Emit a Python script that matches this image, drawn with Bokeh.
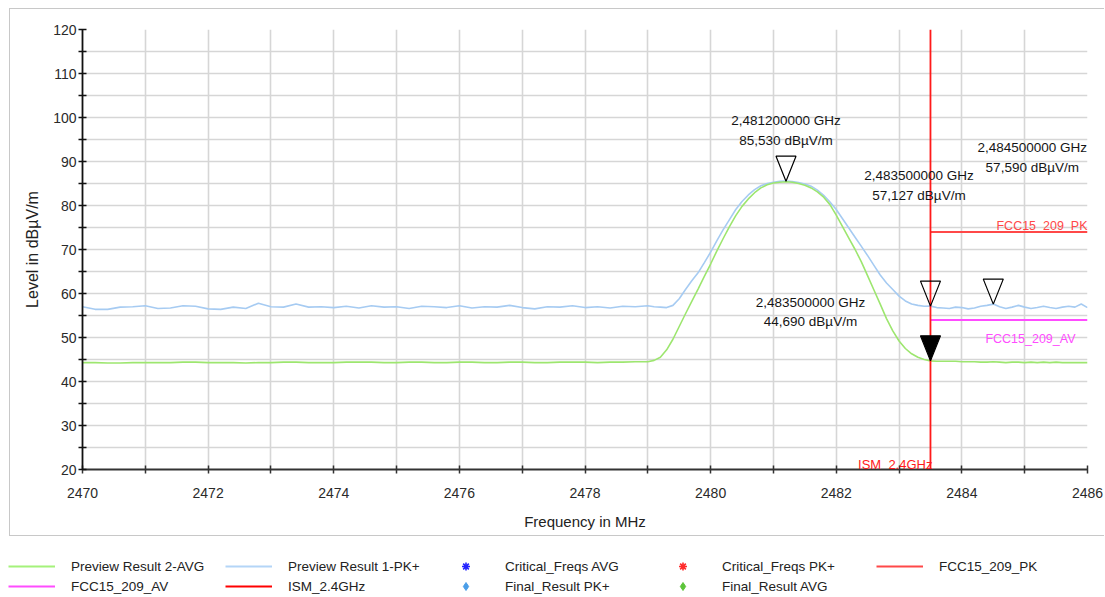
import numpy as np
from bokeh.plotting import figure
from bokeh.models import (Range1d, FixedTicker, Label, Legend, LegendItem)
from bokeh.layouts import column
from bokeh.embed import file_html
from bokeh.resources import INLINE

# ---------------- data ----------------
freq_mhz = [
    2470.0, 2470.2, 2470.4, 2470.6, 2470.8, 2471.0, 2471.2, 2471.4, 2471.6, 2471.8,
    2472.0, 2472.2, 2472.4, 2472.6, 2472.8, 2473.0, 2473.2, 2473.4, 2473.6, 2473.8,
    2474.0, 2474.2, 2474.4, 2474.6, 2474.8, 2475.0, 2475.2, 2475.4, 2475.6, 2475.8,
    2476.0, 2476.2, 2476.4, 2476.6, 2476.8, 2477.0, 2477.2, 2477.4, 2477.6, 2477.8,
    2478.0, 2478.2, 2478.4, 2478.6, 2478.8, 2479.0,
    2479.1, 2479.2, 2479.3, 2479.4, 2479.5, 2479.6, 2479.7, 2479.8, 2479.9, 2480.0,
    2480.1, 2480.2, 2480.3, 2480.4, 2480.5, 2480.6, 2480.7, 2480.8, 2480.9, 2481.0,
    2481.1, 2481.2, 2481.3, 2481.4, 2481.5, 2481.6, 2481.7, 2481.8, 2481.9, 2482.0,
    2482.1, 2482.2, 2482.3, 2482.4, 2482.5, 2482.6, 2482.7, 2482.8, 2482.9, 2483.0,
    2483.1, 2483.2, 2483.3, 2483.4, 2483.5, 2483.6,
    2483.7, 2483.8, 2483.9, 2484.0, 2484.1, 2484.2, 2484.3, 2484.4, 2484.5, 2484.6,
    2484.7, 2484.8, 2484.9, 2485.0, 2485.1, 2485.2, 2485.3, 2485.4, 2485.5, 2485.6,
    2485.7, 2485.8, 2485.9, 2486.0,
]

pk_level = [  # Preview Result 1-PK+
    57.0, 56.4, 56.4, 56.9, 57.0, 57.2, 56.6, 56.7, 57.2, 57.1,
    56.5, 56.4, 56.9, 56.6, 57.8, 57.0, 56.9, 57.6, 56.9, 57.0,
    56.8, 57.1, 56.7, 57.2, 56.9, 57.0, 56.6, 57.1, 57.0, 56.8,
    57.2, 56.7, 57.0, 56.9, 57.3, 56.8, 56.5, 57.0, 56.9, 57.2,
    56.8, 57.0, 56.7, 57.1, 57.0, 57.2,
    57.0, 56.9, 56.8, 57.3, 58.8, 60.9, 62.9, 64.7, 67.0, 69.4,
    72.0, 74.5, 76.8, 79.1, 80.9, 82.4, 83.6, 84.5, 85.0, 85.3,
    85.5, 85.53, 85.45, 85.2, 84.9, 84.4, 83.5, 82.3, 80.8, 79.1,
    77.0, 74.9, 72.8, 70.7, 68.6, 66.4, 64.2, 62.4, 60.9, 59.4,
    58.3, 57.6, 57.3, 57.1, 57.127, 56.8,
    56.7, 56.6, 56.9, 56.8, 56.5, 56.7, 57.1, 57.3, 57.59, 57.0,
    56.6, 56.9, 57.3, 56.9, 56.6, 56.8, 57.1, 56.8, 56.6, 56.9,
    57.1, 56.9, 57.6, 56.8,
]

avg_level = [  # Preview Result 2-AVG
    44.3, 44.3, 44.2, 44.2, 44.3, 44.3, 44.3, 44.3, 44.4, 44.4,
    44.3, 44.3, 44.3, 44.2, 44.3, 44.3, 44.4, 44.4, 44.3, 44.3,
    44.3, 44.4, 44.4, 44.4, 44.3, 44.3, 44.4, 44.4, 44.3, 44.3,
    44.4, 44.4, 44.3, 44.3, 44.4, 44.4, 44.3, 44.3, 44.4, 44.4,
    44.4, 44.3, 44.4, 44.4, 44.5, 44.5,
    44.8, 45.5, 47.2, 49.6, 52.5, 55.4, 58.2, 61.0, 63.9, 66.7,
    69.7, 72.5, 75.2, 77.7, 79.8, 81.5, 82.9, 84.0, 84.7, 85.1,
    85.3, 85.4, 85.3, 85.0, 84.6, 84.0, 83.1, 81.9, 80.2, 77.8,
    75.2, 72.6, 70.0, 67.2, 64.0, 60.8, 57.6, 54.3, 51.5, 49.2,
    47.5, 46.3, 45.5, 45.0, 44.69, 44.6,
    44.6, 44.6, 44.6, 44.5, 44.5, 44.5, 44.4, 44.4, 44.5, 44.4,
    44.3, 44.4, 44.4, 44.3, 44.4, 44.3, 44.4, 44.3, 44.4, 44.3,
    44.3, 44.3, 44.3, 44.3,
]

marker_freq = [2481.2, 2483.5, 2484.5, 2483.5]
marker_level = [85.53, 57.127, 57.59, 44.69]
marker_filled = [False, False, False, True]

fcc_pk_limit = 74.0
fcc_av_limit = 54.0
limit_start = 2483.5
limit_end = 2486.0
ism_edge = 2483.5

x_major = [2470, 2472, 2474, 2476, 2478, 2480, 2482, 2484, 2486]
x_minor = [2471, 2473, 2475, 2477, 2479, 2481, 2483, 2485]
y_major = [20, 30, 40, 50, 60, 70, 80, 90, 100, 110, 120]
y_minor = [25, 35, 45, 55, 65, 75, 85, 95, 105, 115]

legend_labels = ["Preview Result 2-AVG", "Preview Result 1-PK+", "Critical_Freqs AVG",
                 "Critical_Freqs PK+", "FCC15_209_PK", "FCC15_209_AV", "ISM_2.4GHz",
                 "Final_Result PK+", "Final_Result AVG"]

# ---------------- styling ----------------
FONT = "Liberation Sans"
GREEN = "#9de66f"
BLUE = "#a6cbf2"
RED_PK = "#ff4848"
MAGENTA = "#ff4cff"
RED_ISM = "#ff1a1a"
GRID = "#d6d6d6"

X0, X1, Y0, Y1 = 2470, 2486, 20, 120
FRAME_W, FRAME_H = 1005, 440

p = figure(width=1095, height=528, x_range=Range1d(X0, X1), y_range=Range1d(Y0, Y1),
           output_backend="svg", toolbar_location=None,
           min_border_left=72, min_border_right=18, min_border_top=20, min_border_bottom=68)
p.margin = (8, 0, 0, 9)
p.frame_align = False
p.styles = {"border-left": "1px solid #c8c8c8", "border-top": "1px solid #c8c8c8",
            "border-bottom": "1px solid #c8c8c8"}
p.outline_line_color = None
p.background_fill_color = "white"
p.border_fill_color = "white"

p.xaxis.ticker = FixedTicker(ticks=x_major, minor_ticks=x_minor)
p.yaxis.ticker = FixedTicker(ticks=y_major, minor_ticks=y_minor)
for g in (p.xgrid[0], p.ygrid[0]):
    g.grid_line_color = GRID
    g.grid_line_width = 1.6
    g.minor_grid_line_color = GRID
    g.minor_grid_line_width = 1.6

for ax, col in ((p.xaxis[0], "#333333"), (p.yaxis[0], "#111111")):
    ax.axis_line_color = col
    ax.axis_line_width = 1.8
    ax.major_tick_line_color = col
    ax.minor_tick_line_color = col
    ax.major_tick_line_width = 1.5
    ax.minor_tick_line_width = 1.5
    ax.major_tick_in = 4
    ax.major_tick_out = 4
    ax.minor_tick_in = 4
    ax.minor_tick_out = 4
    ax.major_label_text_font = FONT
    ax.major_label_text_font_size = "14px"
    ax.major_label_text_color = "#2a2a2a"

p.xaxis.major_label_standoff = 14
p.yaxis.major_label_standoff = 2
p.xaxis.axis_label = "Frequency in MHz"
p.xaxis.axis_label_text_font = FONT
p.xaxis.axis_label_text_font_size = "15px"
p.xaxis.axis_label_text_font_style = "normal"
p.xaxis.axis_label_text_color = "#222222"
p.xaxis.axis_label_standoff = 12
p.yaxis.axis_label = "Level in dBµV/m"
p.yaxis.axis_label_text_font = FONT
p.yaxis.axis_label_text_font_size = "16px"
p.yaxis.axis_label_text_font_style = "normal"
p.yaxis.axis_label_text_color = "#222222"
p.yaxis.axis_label_standoff = 9

# traces
p.line(freq_mhz, pk_level, line_color=BLUE, line_width=1.6)
p.line(freq_mhz, avg_level, line_color=GREEN, line_width=1.6)

# limit lines
p.segment(x0=[limit_start], y0=[fcc_pk_limit], x1=[limit_end], y1=[fcc_pk_limit],
          line_color=RED_PK, line_width=2)
p.segment(x0=[limit_start], y0=[fcc_av_limit], x1=[limit_end], y1=[fcc_av_limit],
          line_color=MAGENTA, line_width=2)
p.segment(x0=[ism_edge], y0=[Y0], x1=[ism_edge], y1=[Y1], line_color=RED_ISM, line_width=1.8)

# markers: triangles with the tip on the marker point (size given in pixels)
dx = (X1 - X0) / FRAME_W
dy = (Y1 - Y0) / FRAME_H
half_w, tri_h = 10, 25
for mx, my, filled in zip(marker_freq, marker_level, marker_filled):
    xs = [mx - half_w * dx, mx + half_w * dx, mx]
    ys = [my + tri_h * dy, my + tri_h * dy, my]
    p.patch(xs, ys, fill_color="black" if filled else None,
            fill_alpha=1 if filled else 0, line_color="black", line_width=1.2)

# marker readouts
label_dx = [0, -11.5, 39, -120]
label_dy = [50.5, 120.5, 146.5, 49]
for mx, my, ox, oy in zip(marker_freq, marker_level, label_dx, label_dy):
    line1 = f"{mx / 1000:.9f}".replace(".", ",") + " GHz"
    line2 = f"{my:.3f}".replace(".", ",") + " dBµV/m"
    for txt, off in ((line1, oy + 9.75), (line2, oy - 9.75)):
        p.add_layout(Label(x=mx, y=my, x_offset=ox, y_offset=off, text=txt,
                           text_align="center", text_baseline="middle",
                           text_font=FONT, text_font_size="13.5px", text_color="#151515"))

# limit-line names
p.add_layout(Label(x=limit_end, y=fcc_pk_limit, x_offset=0, y_offset=6, text="FCC15_209_PK",
                   text_align="right", text_baseline="alphabetic", text_font=FONT,
                   text_font_size="12.5px", text_color=RED_PK))
p.add_layout(Label(x=limit_end, y=fcc_av_limit, x_offset=-12, y_offset=-19, text="FCC15_209_AV",
                   text_align="right", text_baseline="alphabetic", text_font=FONT,
                   text_font_size="12.5px", text_color=MAGENTA))
p.add_layout(Label(x=ism_edge, y=Y0, x_offset=2, y_offset=5, text="ISM_2.4GHz",
                   text_align="right", text_baseline="alphabetic", text_font=FONT,
                   text_font_size="13px", text_color=RED_ISM))

# ---------------- legend (separate strip below the framed chart) ----------------
lg = figure(width=1105, height=59, x_range=Range1d(0, 1), y_range=Range1d(0, 1),
            x_axis_type=None, y_axis_type=None, output_backend="svg", toolbar_location=None,
            min_border_left=0, min_border_right=0, min_border_top=0, min_border_bottom=0)
lg.frame_align = False
lg.outline_line_color = None
lg.grid.visible = False

off = [-5, -4]
r_avg = lg.line(off, off, line_color="#a4f27a", line_width=2)
r_pk = lg.line(off, off, line_color="#b4d5f7", line_width=2)
r_cf_avg = lg.scatter(off, off, marker="asterisk", size=8, line_color="#2424ff", line_width=1.6)
r_cf_pk = lg.scatter(off, off, marker="asterisk", size=8, line_color="#ff2a2a", line_width=1.6)
r_fcc_pk = lg.line(off, off, line_color=RED_PK, line_width=2)
r_fcc_av = lg.line(off, off, line_color=MAGENTA, line_width=2)
r_ism = lg.line(off, off, line_color="#ff0000", line_width=2)
r_fr_pk = lg.scatter(off, off, marker="diamond", size=12, fill_color="#4a9ee8", line_color="#4a9ee8")
r_fr_avg = lg.scatter(off, off, marker="diamond", size=12, fill_color="#5cc43a", line_color="#5cc43a")
rends = [r_avg, r_pk, r_cf_avg, r_cf_pk, r_fcc_pk, r_fcc_av, r_ism, r_fr_pk, r_fr_avg]

legend = Legend(items=[LegendItem(label=l, renderers=[r]) for l, r in zip(legend_labels, rends)],
                orientation="horizontal", ncols=5, location=(8, -1),
                glyph_width=47, glyph_height=20, label_height=20, label_width=154,
                label_standoff=16, spacing=0, padding=0, margin=0,
                border_line_color=None, background_fill_alpha=0,
                label_text_font=FONT, label_text_font_size="13.5px",
                label_text_color="#222222")
lg.add_layout(legend)

layout = column(p, lg, spacing=0)
open("out.html", "w").write(file_html(layout, INLINE))
